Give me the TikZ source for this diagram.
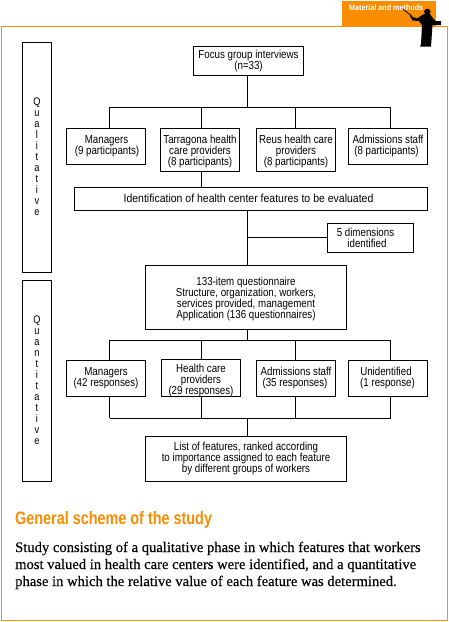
\documentclass[tikz,border=0pt]{standalone}
\usepackage{fontspec}
\setmainfont[FakeBold=0.25]{Liberation Serif}
\newfontfamily\diagfont[FakeStretch=0.84]{Liberation Sans}
\newfontfamily\widediagfont[FakeStretch=0.905]{Liberation Sans}
\newfontfamily\headfont[FakeStretch=0.80]{Liberation Sans}
\newfontfamily\tabfont[FakeStretch=0.90]{Liberation Sans}
\definecolor{tabor}{RGB}{250,140,0}
\newcommand{\lowerline}{\rule{0pt}{12.5pt}}
\tikzset{
  x=1pt,y=-1pt,
  box/.style={draw=black,line width=0.9pt,inner sep=0pt,align=center,font=\diagfont\fontsize{11.6}{11}\selectfont},
  phase/.style={box,minimum width=29pt,font=\diagfont\fontsize{11}{11}\selectfont},
  link/.style={draw=black,line width=0.9pt},
  frameline/.style={draw=tabor,line width=1pt},
  bodytext/.style={anchor=base west,inner sep=0pt,font=\fontsize{14.6}{17}\selectfont}
}
\begin{document}
\begin{tikzpicture}
\useasboundingbox (0,0) rectangle (449,622);
\fill[white] (0,0) rectangle (449,622);
% frame and tab
\fill[tabor] (342,1) rectangle (436,26.5);
\draw[frameline] (1.5,26.5) rectangle (447.5,620.5);
\node[text=white,font=\tabfont\bfseries\fontsize{8}{9}\selectfont,anchor=west,inner sep=0pt] (tabtext) at (349,8) {Material and methods};
% presenter silhouette
\draw[black,line width=0.8pt] (403.3,9.3) -- (411.7,16);
\fill[black] (409.5,15.5) -- (417,18.5) -- (423,14.5) -- (425,14) -- (430,14) -- (431.5,16.5) -- (435.5,21) -- (441,21) -- (441,25) -- (432.5,25) -- (431,46.7) -- (420,46.7) -- (421,44) -- (422,25) -- (419,21) -- (412.5,20.5) -- cycle;
\fill[black] (427.3,11.7) ellipse [x radius=3.2,y radius=3];
% phases
\node[phase,minimum height=230pt] (qual) at (37,157) {Q\\u\\a\\l\\i\\t\\a\\t\\i\\v\\e};
\node[phase,minimum height=201pt] (quan) at (37,380.5) {Q\\u\\a\\n\\t\\i\\t\\a\\t\\i\\v\\e};
% nodes
\node[box,minimum width=110pt,minimum height=29pt] (focus) at (248.5,60.5) {Focus group interviews\\(n=33)};
\node[box,minimum width=79pt,minimum height=36pt] (m1) at (106,146) {Managers\hspace*{-1pt}\\(9 participants)\hspace*{-2pt}};
\node[box,minimum width=79pt,minimum height=43pt] (t1) at (200,149.5) {\lowerline Tarragona health\\care providers\\(8 participants)};
\node[box,minimum width=79pt,minimum height=43pt] (r1) at (296,149.5) {\lowerline Reus health care\\providers\\(8 participants)};
\node[box,minimum width=79pt,minimum height=36pt] (a1) at (388,146) {Admissions staff\\(8 participants)\hspace*{3pt}};
\node[box,minimum width=353pt,minimum height=23pt,font=\widediagfont\fontsize{11.6}{11}\selectfont] (ident) at (251,198.5) {Identification of health center features to be evaluated\hspace*{5pt}};
\node[box,minimum width=86pt,minimum height=29pt] (five) at (370.5,237.5) {5 dimensions\hspace*{10pt}\\identified\hspace*{7pt}};
\node[box,minimum width=201pt,minimum height=64pt] (quest) at (246,297) {\lowerline 133-item questionnaire\\Structure, organization, workers,\\services provided, management\\Application (136 questionnaires)};
\node[box,minimum width=79pt,minimum height=36pt] (m2) at (106,378) {Managers\\(42 responses)};
\node[box,minimum width=79pt,minimum height=36pt] (h2) at (201,378) {\lowerline Health care\\providers\\(29 responses)};
\node[box,minimum width=79pt,minimum height=36pt] (a2) at (296,378) {Admissions staff\\(35 responses)\hspace*{2pt}};
\node[box,minimum width=79pt,minimum height=36pt] (u2) at (388,378) {Unidentified\hspace*{4pt}\\(1 response)\hspace*{1pt}};
\node[box,minimum width=201pt,minimum height=45pt] (list) at (246,458.5) {List of features, ranked according\\to importance assigned to each feature\\by different groups of workers};
% junction points
\coordinate (bus1) at (247.5,107);
\coordinate (b1a) at (109.5,107);
\coordinate (b1b) at (201.5,107);
\coordinate (b1c) at (295.5,107);
\coordinate (b1d) at (390.5,107);
\coordinate (bus2) at (247.5,340);
\coordinate (b2a) at (109.5,340);
\coordinate (b2b) at (201.5,340);
\coordinate (b2c) at (295.5,340);
\coordinate (b2d) at (390.5,340);
\coordinate (bus3) at (247.5,418);
\coordinate (b3a) at (109.5,418);
\coordinate (b3b) at (201.5,418);
\coordinate (b3c) at (295.5,418);
\coordinate (b3d) at (390.5,418);
% connectors
\draw[link] (focus.south -| bus1) -- (bus1);
\draw[link] (b1a) -- (b1d);
\draw[link] (b1a) -- (b1a |- m1.north);
\draw[link] (b1b) -- (b1b |- t1.north);
\draw[link] (b1c) -- (b1c |- r1.north);
\draw[link] (b1d) -- (b1d |- a1.north);
\draw[link] (b1b |- t1.south) -- (b1b |- ident.north);
\draw[link] (bus1 |- ident.south) -- (bus1 |- quest.north);
\draw[link] (bus1 |- five.west) -- (five.west);
\draw[link] (bus2 |- quest.south) -- (bus2);
\draw[link] (b2a) -- (b2d);
\draw[link] (b2a) -- (b2a |- m2.north);
\draw[link] (b2b) -- (b2b |- h2.north);
\draw[link] (b2c) -- (b2c |- a2.north);
\draw[link] (b2d) -- (b2d |- u2.north);
\draw[link] (b3a |- m2.south) -- (b3a);
\draw[link] (b3b |- h2.south) -- (b3b);
\draw[link] (b3c |- a2.south) -- (b3c);
\draw[link] (b3d |- u2.south) -- (b3d);
\draw[link] (b3a) -- (b3d);
\draw[link] (bus3) -- (bus3 |- list.north);
% caption
\node[anchor=base west,inner sep=0pt,text=tabor,font=\headfont\bfseries\fontsize{18}{20}\selectfont] (title) at (15,524) {General scheme of the study};
\node[bodytext] (c1) at (15,552) {Study consisting of a qualitative phase in which features that workers};
\node[bodytext] (c2) at (15,569) {most valued in health care centers were identified, and a quantitative};
\node[bodytext] (c3) at (15,586) {phase in which the relative value of each feature was determined.};
\end{tikzpicture}
\end{document}
